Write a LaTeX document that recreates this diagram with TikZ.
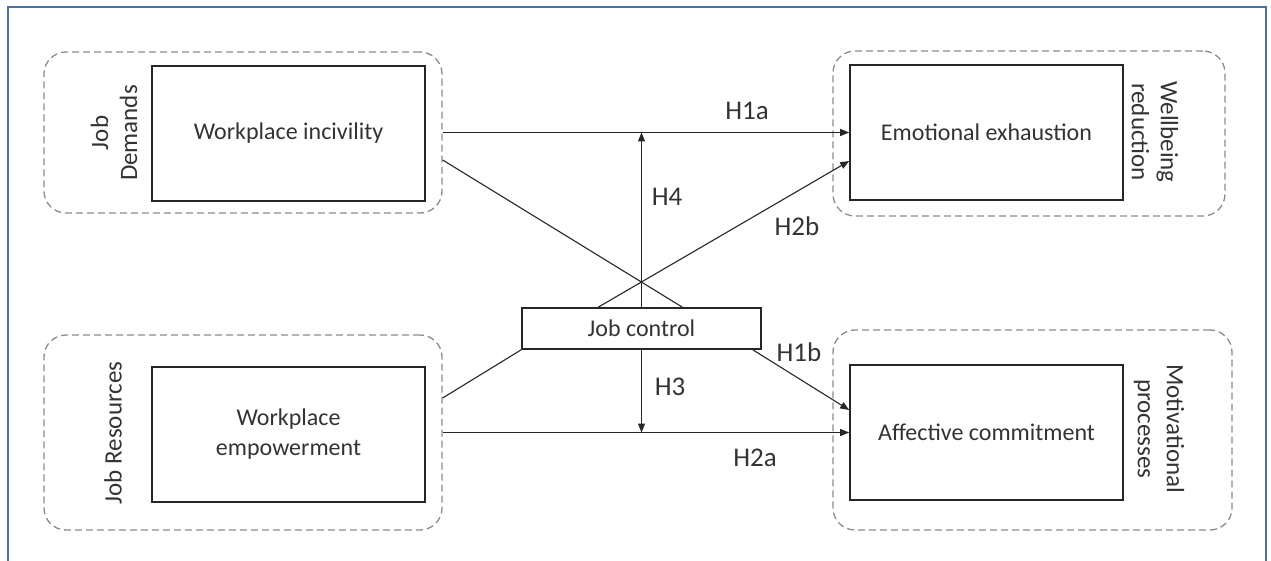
\documentclass[tikz,border=0pt]{standalone}
\usepackage{fontspec}
\setmainfont{Carlito}
\usetikzlibrary{arrows.meta,calc}
\definecolor{txt}{HTML}{333333}
\definecolor{dash}{HTML}{8C8C8C}
\definecolor{frame}{HTML}{4A6FB5}
\tikzset{
  grp/.style={draw=dash,dashed,dash pattern=on 7pt off 4pt,line width=1.3pt,rounded corners=22pt,inner sep=0pt},
  var/.style={draw=black!85,line width=1.6pt,inner sep=0pt,text=txt,font=\fontsize{24}{30}\selectfont,align=center},
  side/.style={text=txt,font=\fontsize{25}{29}\selectfont,align=center,inner sep=0pt},
  hlab/.style={text=txt,font=\fontsize{27}{30}\selectfont,inner sep=0pt},
  lnk/.style={draw=black!85,line width=1.1pt},
  arr/.style={lnk,-{Triangle[length=9pt,width=7pt]}}
}
\begin{document}
\begin{tikzpicture}[x=1pt,y=-1pt]
\useasboundingbox (0,0) rectangle (1271,561);
% outer frame
\coordinate (f1) at (8,561);
\coordinate (f2) at (8,7);
\coordinate (f3) at (1266,7);
\coordinate (f4) at (1266,561);
\draw[frame,line width=1.4pt] (f1) -- (f2) -- (f3) -- (f4);
% groups
\node[grp,minimum width=398pt,minimum height=161pt] (gTL) at (243,132.5) {};
\node[grp,minimum width=392pt,minimum height=165pt] (gTR) at (1029,133.5) {};
\node[grp,minimum width=398pt,minimum height=195pt] (gBL) at (243,432.5) {};
\node[grp,minimum width=399pt,minimum height=200pt] (gBR) at (1032.5,430) {};
% variables
\node[var,minimum width=273pt,minimum height=135pt] (wi) at (288.5,133.5) {Workplace incivility};
\node[var,minimum width=273pt,minimum height=135pt] (ee) at (986.5,132.5) {Emotional exhaustion};
\node[var,minimum width=273pt,minimum height=135pt] (we) at (288.5,434.5) {Workplace\\empowerment};
\node[var,minimum width=273pt,minimum height=135pt] (ac) at (986.5,432.5) {Affective commitment};
\node[var,minimum width=239pt,minimum height=41pt] (jc) at (641.5,328.5) {Job control};
% side labels
\node[side,rotate=90] (sJD) at (114,133) {Job\\Demands};
\node[side,rotate=90] (sJR) at (113,433) {Job Resources};
\node[side,rotate=-90] (sWR) at (1155,132) {Wellbeing\\reduction};
\node[side,rotate=-90] (sMP) at (1159,429) {Motivational\\processes};
% connectors
\draw[arr] (gTL.east |- ee.west) -- (ee.west);
\draw[arr] (jc.north) -- (jc.north |- ee.west);
\draw[lnk] ($(gTL.east)+(0,27.5)$) -- ($(jc.north west)!0.67!(jc.north east)$);
\draw[arr] ($(jc.north west)!0.32!(jc.north east)$) -- ($(ee.west)+(0,28.5)$);
\draw[lnk] ($(gBL.east)+(0,-34.5)$) -- (jc.south west);
\draw[arr] (jc.south) -- (jc.south |- ac.west);
\draw[arr] (gBL.east |- ac.west) -- (ac.west);
\draw[arr] ($(jc.south east)+(-9,0)$) -- ($(ac.west)+(0,-22.5)$);
% hypothesis labels
\node[hlab] (h1a) at (747,111) {H1a};
\node[hlab] (h4) at (667,197) {H4};
\node[hlab] (h2b) at (797,226) {H2b};
\node[hlab] (h1b) at (799,352) {H1b};
\node[hlab] (h3) at (670,387) {H3};
\node[hlab] (h2a) at (755,458) {H2a};
\end{tikzpicture}
\end{document}
